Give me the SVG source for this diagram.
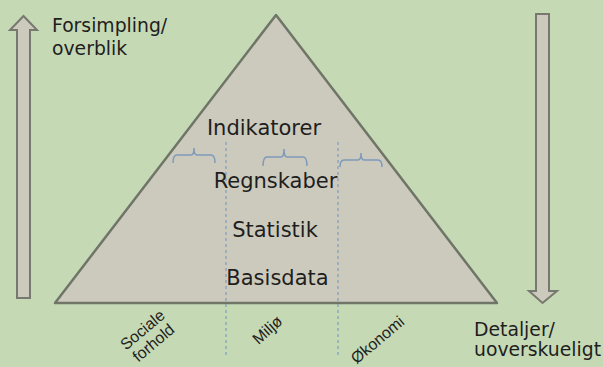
<svg xmlns="http://www.w3.org/2000/svg" width="603" height="367" viewBox="0 0 603 367">
<style>
.lbl{font-family:"DejaVu Sans",Verdana,sans-serif;fill:#1e1e1e}
.big{font-size:21px;text-anchor:middle}
.side{font-size:18.8px}
.axis{font-family:"Liberation Sans",Arial,sans-serif;font-size:16px;fill:#1e1e1e;text-anchor:middle}
.arrow{fill:#cccabd;stroke:#77786f;stroke-width:2}
.brace{fill:none;stroke:#7e9abb;stroke-width:1.5}
.dash{stroke:#7e9cc2;stroke-width:1.2;stroke-dasharray:3 3}
</style>
<rect width="603" height="367" fill="#c6d9b5"/>
<g id="pyramid">
<polygon points="276,15 55,303 497,303" fill="#cccabd" stroke="#6f7567" stroke-width="2.5" stroke-linejoin="round"/>
</g>
<g id="arrow-up">
<polygon class="arrow" points="23.5,16 37,30 30,30 30,298 17,298 17,30 10,30"/>
</g>
<g id="arrow-down">
<polygon class="arrow" points="536,14 549,14 549,291 557,291 542.5,303 529,291 536,291"/>
</g>
<g id="connectors">
<line class="dash" x1="226" y1="142" x2="226" y2="355"/>
<line class="dash" x1="338" y1="142" x2="338" y2="355"/>
<path class="brace" d="M173,163 Q173,155 177,155 L191,155 Q194,155 194,148 Q194,155 197,155 L211,155 Q215,155 215,163"/>
<path class="brace" d="M263,166 Q263,157 267,157 L281,157 Q284,157 284,149 Q284,157 287,157 L303,157 Q307,157 307,166"/>
<path class="brace" d="M340,167 Q340,160 344,160 L358,160 Q361,160 361,153 Q361,160 364,160 L378,160 Q382,160 382,167"/>
</g>
<g id="levels">
<text class="lbl big" x="264" y="135">Indikatorer</text>
<text class="lbl big" x="275.5" y="188">Regnskaber</text>
<text class="lbl big" x="275" y="237">Statistik</text>
<text class="lbl big" x="277.5" y="285">Basisdata</text>
</g>
<g id="label-top">
<text class="lbl side" x="52" y="32">Forsimpling/<tspan x="52" y="55">overblik</tspan></text>
</g>
<g id="label-bottom">
<text class="lbl side" x="474" y="336">Detaljer/<tspan x="474" y="356">uoverskueligt</tspan></text>
</g>
<g id="axis-labels">
<text class="axis" transform="translate(146,334) rotate(-40)">Sociale<tspan x="0" y="17">forhold</tspan></text>
<text class="axis" transform="translate(271,334) rotate(-42)">Miljø</text>
<text class="axis" transform="translate(381,344) rotate(-40)">Økonomi</text>
</g>
</svg>
